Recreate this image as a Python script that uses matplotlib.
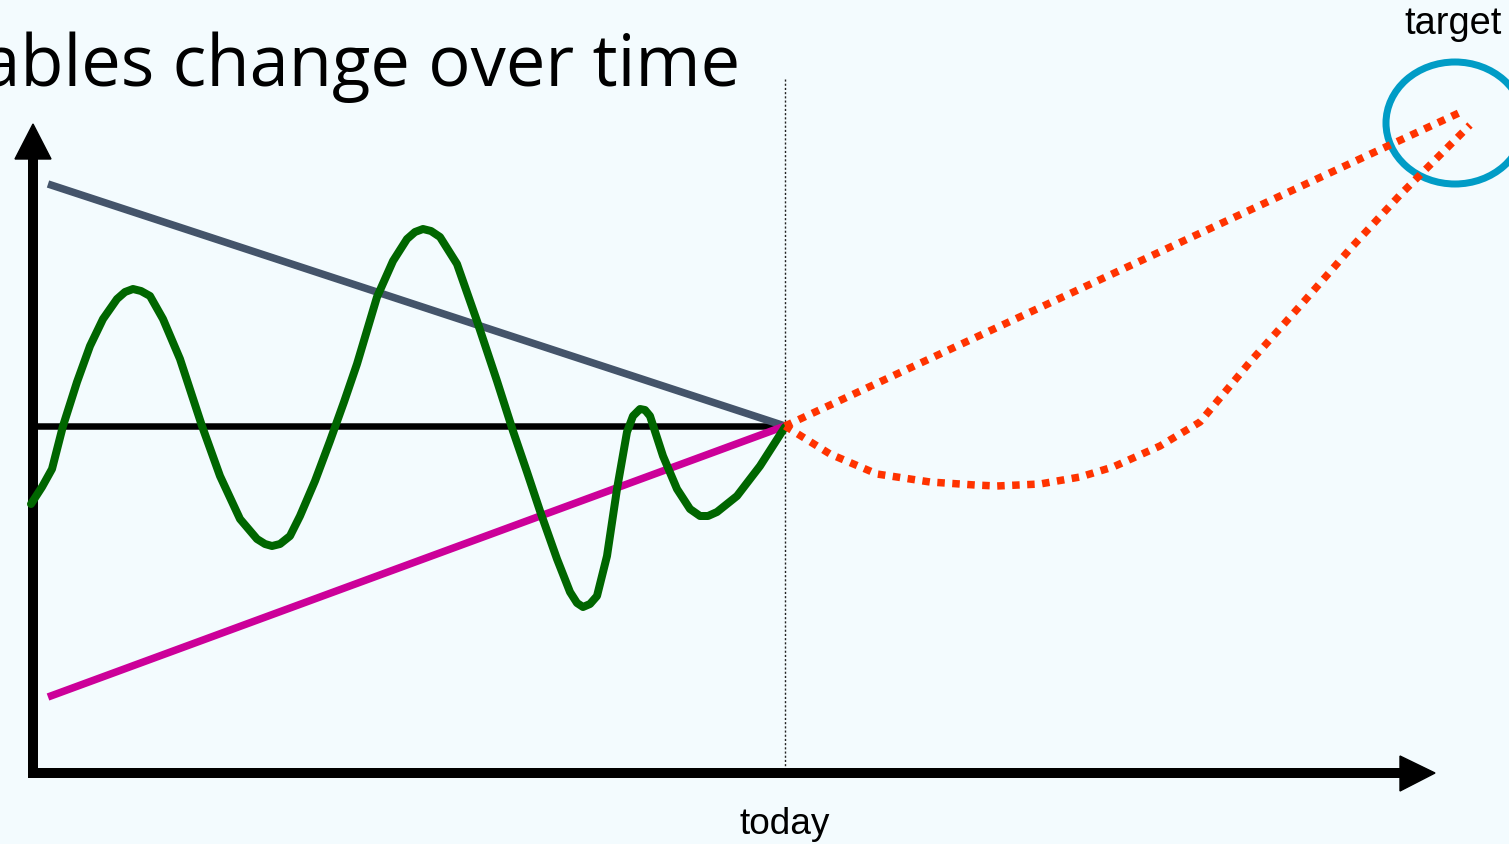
import matplotlib
matplotlib.use("Agg")
import matplotlib.pyplot as plt
from matplotlib.patches import Ellipse, Polygon

W, H = 1509, 845
BG = "#F3FBFE"

# ---- data (diagram space, y grows downward) ----
today_x = 785
baseline_y = 427

gray_x = [48, 785]
gray_y = [185, 427]

magenta_x = [48, 785]
magenta_y = [698, 427]

green_x = [31, 42, 52, 63, 77, 90, 103, 117, 125, 133, 141, 150, 163, 180, 202, 220, 240,
           257, 265, 272, 280, 290, 300, 315, 330, 344, 357, 377, 393, 407, 415, 423, 431,
           440, 457, 477, 497, 513, 527, 540, 557, 570, 577, 583, 590, 597, 607, 617, 627,
           633, 640, 645, 650, 663, 677, 690, 700, 708, 717, 737, 760, 785]
green_y = [505, 488, 470, 427, 383, 347, 320, 300, 293, 290, 292, 297, 320, 360, 427, 477, 520,
           540, 545, 547, 545, 537, 517, 482, 442, 403, 365, 298, 262, 240, 233, 230, 232,
           238, 265, 322, 382, 432, 473, 512, 560, 593, 604, 608, 605, 597, 557, 490, 433,
           417, 410, 411, 417, 457, 490, 510, 517, 517, 513, 497, 467, 428]

red_up_x = [785, 1461]
red_up_y = [427, 113]

red_low_x = [785, 830, 877, 930, 975, 997, 1040, 1080, 1113, 1160, 1200, 1250, 1300, 1350, 1400, 1470]
red_low_y = [427, 455, 475, 483, 486, 487, 485, 478, 468, 447, 423, 363, 307, 250, 196, 126]

target_center = (1455, 124)
title_text = "How variables change over time"

fig = plt.figure(figsize=(W / 100, H / 100), dpi=100, facecolor=BG)
ax = fig.add_axes([0, 0, 1, 1])
ax.set_xlim(0, W)
ax.set_ylim(H, 0)
ax.set_facecolor(BG)
ax.axis("off")

px = 72 / 100  # points per pixel

# title (cut off at the left edge, as in the reference)
ax.text(740, 86, title_text, fontsize=72 * px * 0.98, family="Open Sans",
        ha="right", va="baseline", color="black")

# dotted "today" line
ax.plot([today_x, today_x], [80, 770], color="#222222", lw=1.4 * px,
        linestyle=(0, (1.5, 1.5)))

# axes with arrowheads
ax.plot([33, 33], [778, 150], color="black", lw=10 * px, solid_capstyle="butt")
ax.add_patch(Polygon([[33, 125], [15, 160], [51, 160]], closed=True, color="black"))
ax.plot([28, 1402], [774, 774], color="black", lw=10 * px, solid_capstyle="butt")
ax.add_patch(Polygon([[1435, 774], [1400, 757], [1400, 792]], closed=True, color="black"))

# baseline
ax.plot([37, today_x], [baseline_y, baseline_y], color="black", lw=6.5 * px,
        solid_capstyle="butt")

# trend lines
ax.plot(gray_x, gray_y, color="#44546A", lw=7.5 * px, solid_capstyle="butt")
ax.plot(magenta_x, magenta_y, color="#CC0099", lw=7.5 * px, solid_capstyle="butt")

# green wave
ax.plot(green_x, green_y, color="#006600", lw=8 * px, solid_capstyle="round",
        solid_joinstyle="round")

# red dotted projections
for xs, ys in ((red_up_x, red_up_y), (red_low_x, red_low_y)):
    ax.plot(xs, ys, color="#FF3300", lw=7.5 * px, linestyle=(0, (1, 1)),
            dash_capstyle="butt")

# target circle
ax.add_patch(Ellipse(target_center, 138, 122, fill=False, edgecolor="#009CC6",
                     lw=7 * px))

ax.text(1453, 24, "target", fontsize=38 * px, family="Liberation Sans",
        ha="center", va="center", color="black")
ax.text(785, 825, "today", fontsize=37 * px, family="Liberation Sans",
        ha="center", va="center", color="black")

fig.savefig("out.png", dpi=100, facecolor=BG)
